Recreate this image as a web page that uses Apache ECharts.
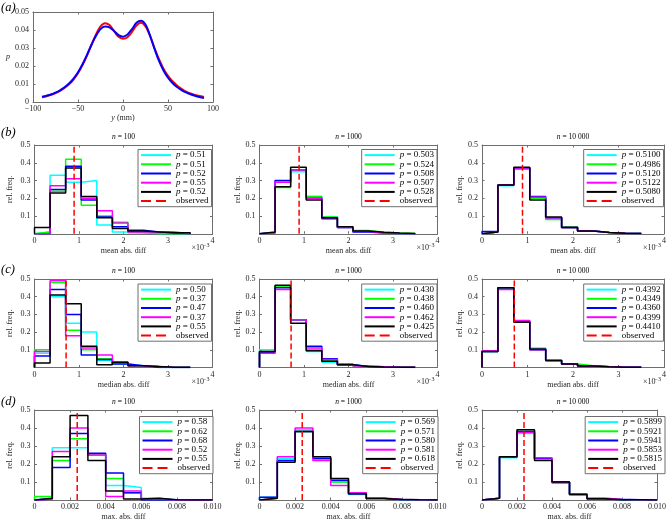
<!DOCTYPE html>
<html><head><meta charset="utf-8">
<script src="https://cdn.jsdelivr.net/npm/echarts@6/dist/echarts.min.js"></script>
<style>html,body{margin:0;padding:0;background:#fff}#c{width:669px;height:522px}</style>
</head><body><div id="c"></div>
<script>
const FONT = 'Liberation Serif';
// ---------- panel (a) ----------
const aY = [-90,-85,-80,-75,-70,-65,-60,-55,-50,-45,-40,-35,-30,-25,-20,-15,-10,-5,0,5,10,15,20,25,30,35,40,45,50,55,60,65,70,75,80,85,90];
const aRed = [0.0026,0.0032,0.0040,0.0050,0.0062,0.0078,0.0098,0.0125,0.0160,0.0205,0.0258,0.0318,0.0375,0.0420,0.0438,0.0428,0.0395,0.0362,0.0352,0.0360,0.0390,0.0425,0.0440,0.0420,0.0368,0.0300,0.0238,0.0185,0.0145,0.0115,0.0092,0.0073,0.0058,0.0047,0.0039,0.0033,0.0028];
const aBlue = [0.0029,0.0035,0.0042,0.0052,0.0065,0.0082,0.0103,0.0130,0.0165,0.0210,0.0262,0.0318,0.0368,0.0405,0.0420,0.0415,0.0395,0.0372,0.0363,0.0375,0.0405,0.0440,0.0452,0.0430,0.0370,0.0295,0.0228,0.0175,0.0135,0.0105,0.0083,0.0066,0.0053,0.0043,0.0035,0.0028,0.0022];

// ---------- histogram bins ----------
const edgesMean = [0,0.35,0.70,1.05,1.40,1.75,2.10,2.45,2.80,3.15,3.50];   // x10^-3
const edgesMedian = [0,0.35,0.70,1.05,1.40,1.75,2.10,2.45,2.80,3.15,3.50]; // x10^-3
const edgesMax = [0,0.001,0.002,0.003,0.004,0.005,0.006,0.007,0.008,0.009,0.010];

const obsMean = 0.89, obsMedian = 0.71, obsMax = 0.0024;

// series order: cyan, green, blue, magenta, black
const mean100 = [
 [0.01,0.33,0.29,0.30,0.05,0.01,0.005,0,0,0],
 [0.01,0.24,0.42,0.16,0.10,0.065,0.005,0,0,0],
 [0.0,0.25,0.38,0.19,0.095,0.04,0.02,0.01,0.005,0],
 [0.0,0.27,0.31,0.20,0.13,0.06,0.01,0.01,0.01,0],
 [0.035,0.23,0.37,0.21,0.09,0.03,0.015,0.01,0.005,0.005]];
const mean100P = ['0.51','0.51','0.52','0.55','0.52'];
const mean1000 = [
 [0.005,0.29,0.35,0.21,0.095,0.035,0.01,0.005,0,0],
 [0.005,0.26,0.36,0.21,0.095,0.04,0.018,0.008,0.004,0.002],
 [0.005,0.30,0.36,0.20,0.085,0.035,0.01,0.004,0.001,0],
 [0.005,0.29,0.36,0.20,0.09,0.035,0.012,0.005,0.002,0],
 [0.01,0.265,0.375,0.19,0.09,0.04,0.015,0.008,0.004,0.002]];
const mean1000P = ['0.503','0.524','0.508','0.507','0.528'];
const mean10000 = [
 [0.01,0.27,0.37,0.20,0.09,0.035,0.015,0.007,0.003,0.001],
 [0.01,0.275,0.37,0.20,0.08,0.04,0.015,0.007,0.003,0.001],
 [0.012,0.275,0.37,0.21,0.09,0.035,0.015,0.007,0.003,0.001],
 [0.01,0.275,0.365,0.205,0.09,0.035,0.015,0.007,0.003,0.001],
 [0.01,0.275,0.375,0.19,0.095,0.035,0.015,0.007,0.003,0.001]];
const mean10000P = ['0.5100','0.4986','0.5120','0.5122','0.5080'];

const median100 = [
 [0.08,0.40,0.25,0.20,0.04,0.02,0.01,0,0,0],
 [0.10,0.48,0.21,0.10,0.05,0.03,0.01,0.005,0,0],
 [0.065,0.44,0.30,0.07,0.045,0.02,0.01,0,0,0],
 [0.09,0.49,0.18,0.11,0.07,0.03,0.01,0.005,0,0],
 [0.025,0.41,0.36,0.12,0.015,0.03,0.01,0.005,0.002,0.002]];
const median100P = ['0.50','0.37','0.47','0.37','0.55'];
const median1000 = [
 [0.10,0.46,0.27,0.09,0.03,0.015,0.005,0.003,0.001,0.001],
 [0.09,0.46,0.27,0.10,0.04,0.02,0.008,0.004,0.002,0.002],
 [0.085,0.45,0.27,0.12,0.05,0.015,0.005,0.003,0.001,0],
 [0.08,0.44,0.27,0.11,0.045,0.02,0.008,0.004,0.002,0.001],
 [0.09,0.465,0.25,0.095,0.035,0.015,0.006,0.003,0.001,0.001]];
const median1000P = ['0.430','0.438','0.460','0.462','0.425'];
const median10000 = [
 [0.09,0.45,0.26,0.11,0.04,0.02,0.008,0.004,0.002,0.001],
 [0.09,0.45,0.26,0.10,0.04,0.02,0.01,0.004,0.002,0.001],
 [0.09,0.45,0.26,0.10,0.04,0.02,0.008,0.004,0.002,0.001],
 [0.095,0.44,0.265,0.10,0.04,0.02,0.008,0.004,0.002,0.001],
 [0.09,0.45,0.255,0.105,0.04,0.02,0.008,0.004,0.002,0.001]];
const median10000P = ['0.4392','0.4349','0.4360','0.4399','0.4410'];

const max100 = [
 [0.01,0.29,0.29,0.25,0.08,0.07,0.01,0,0,0],
 [0.02,0.22,0.34,0.25,0.12,0.04,0.005,0,0,0],
 [0.005,0.18,0.37,0.26,0.15,0.04,0,0,0,0],
 [0.005,0.27,0.40,0.25,0.02,0.05,0.005,0,0,0],
 [0.01,0.24,0.47,0.22,0.05,0.005,0.01,0.002,0,0]];
const max100P = ['0.58','0.62','0.68','0.52','0.55'];
const max1000 = [
 [0.015,0.23,0.39,0.23,0.10,0.03,0.008,0.002,0.001,0],
 [0.01,0.22,0.38,0.23,0.10,0.04,0.01,0.004,0.002,0.001],
 [0.015,0.22,0.38,0.23,0.11,0.035,0.008,0.002,0.001,0],
 [0.01,0.24,0.40,0.22,0.08,0.04,0.01,0.004,0.002,0.001],
 [0.01,0.21,0.38,0.24,0.12,0.035,0.008,0.003,0.001,0]];
const max1000P = ['0.569','0.571','0.580','0.581','0.618'];
const max10000 = [
 [0.01,0.235,0.37,0.23,0.10,0.035,0.01,0.004,0.002,0.001],
 [0.01,0.24,0.38,0.23,0.10,0.03,0.007,0.002,0.001,0],
 [0.01,0.24,0.38,0.23,0.10,0.03,0.007,0.002,0.001,0],
 [0.01,0.24,0.375,0.235,0.095,0.035,0.01,0.004,0.002,0.001],
 [0.01,0.24,0.39,0.22,0.10,0.03,0.007,0.002,0.001,0]];
const max10000P = ['0.5899','0.5921','0.5941','0.5853','0.5815'];

const nLabels = ['100','1000','10 000'];
const colors = ['#00ffff','#00ff00','#0000ff','#ff00ff','#000000'];

// ---------- layout ----------
const W = 669;
const AX = '#6e6e6e', TXT = '#262626';
const colX = [[34.5,178],[259.5,178],[482,182]];
const rowY = {b:[145,88.75], c:[279,88.5], d:[410,90]};
const legendRightEdge = {b:[211.5,437,663.5], c:[211.5,437,663.5], d:[213,438,665]};
const legendTop = {b:149.5, c:284, d:416.5};
const ylabGap = [20.5,15.5,15];

const panels = [
 {row:'b',col:0,vals:mean100,p:mean100P,obs:obsMean,edges:edgesMean,xname:'mean abs. diff',kind:'e'},
 {row:'b',col:1,vals:mean1000,p:mean1000P,obs:obsMean,edges:edgesMean,xname:'mean abs. diff',kind:'e'},
 {row:'b',col:2,vals:mean10000,p:mean10000P,obs:obsMean,edges:edgesMean,xname:'mean abs. diff',kind:'e'},
 {row:'c',col:0,vals:median100,p:median100P,obs:obsMedian,edges:edgesMedian,xname:'median abs. diff',kind:'e'},
 {row:'c',col:1,vals:median1000,p:median1000P,obs:obsMedian,edges:edgesMedian,xname:'median abs. diff',kind:'e'},
 {row:'c',col:2,vals:median10000,p:median10000P,obs:obsMedian,edges:edgesMedian,xname:'median abs. diff',kind:'e'},
 {row:'d',col:0,vals:max100,p:max100P,obs:obsMax,edges:edgesMax,xname:'max. abs. diff',kind:'m'},
 {row:'d',col:1,vals:max1000,p:max1000P,obs:obsMax,edges:edgesMax,xname:'max. abs. diff',kind:'m'},
 {row:'d',col:2,vals:max10000,p:max10000P,obs:obsMax,edges:edgesMax,xname:'max. abs. diff',kind:'m'}
];

function stairs(edges, vals){
  const pts = [[edges[0],0]];
  for(let i=0;i<vals.length;i++){ pts.push([edges[i],vals[i]],[edges[i+1],vals[i]]); }
  pts.push([edges[edges.length-1],0]);
  return pts;
}

const lab = {fontFamily:FONT, fontSize:8, color:TXT};
function xAxes(g, min, max, interval, fmt, name, nameGap, nameRich){
  const common = {type:'value', gridIndex:g, min, max, interval, splitLine:{show:false},
    axisLine:{show:true,onZero:false,lineStyle:{color:AX,width:1}},
    axisTick:{show:true,inside:true,length:2.5,lineStyle:{color:AX,width:1}}};
  return [
    Object.assign({}, common, {position:'bottom',
      axisLabel:Object.assign({show:true,margin:3,formatter:fmt,showMinLabel:true,showMaxLabel:true}, lab),
      name, nameLocation:'middle', nameGap,
      nameTextStyle:Object.assign({rich:nameRich||{}}, lab)}),
    Object.assign({}, common, {position:'top', axisLabel:{show:false}})
  ];
}
function yAxes(g, min, max, interval, fmt, name, nameGap, nameExtra){
  const common = {type:'value', gridIndex:g, min, max, interval, splitLine:{show:false},
    axisLine:{show:true,onZero:false,lineStyle:{color:AX,width:1}},
    axisTick:{show:true,inside:true,length:2.5,lineStyle:{color:AX,width:1}}};
  return [
    Object.assign({}, common, {position:'left',
      axisLabel:Object.assign({show:true,margin:4,formatter:fmt,showMinLabel:true,showMaxLabel:true}, lab),
      name, nameLocation:'middle', nameGap, nameRotate:90,
      nameTextStyle:Object.assign({}, lab)}, nameExtra||{}),
    Object.assign({}, common, {position:'right', axisLabel:{show:false}})
  ];
}

const grid = [], xAxis = [], yAxis = [], series = [], legend = [], graphic = [];

// panel (a)
grid.push({left:33, top:12, width:180, height:90});
xAxis.push(...xAxes(0,-100,100,50, v => v<0 ? '\u2212'+Math.abs(v) : String(v),
  '{i|y} (mm)', 12, {i:{fontStyle:'italic',fontFamily:FONT,fontSize:8,color:TXT}}));
yAxis.push(...yAxes(0,0,0.05,0.01, v => v===0 ? '0' : v.toFixed(2), 'p', 23,
  {nameRotate:0, nameTextStyle:Object.assign({fontStyle:'italic'}, lab)}));
series.push({type:'line', name:'red', xAxisIndex:0, yAxisIndex:0, smooth:0.3, symbol:'none', animation:false, silent:true,
  data: aY.map((y,i)=>[y,aRed[i]]), lineStyle:{color:'#ff0000',width:2}});
series.push({type:'line', name:'blue', xAxisIndex:0, yAxisIndex:0, smooth:0.3, symbol:'none', animation:false, silent:true,
  data: aY.map((y,i)=>[y,aBlue[i]]), lineStyle:{color:'#0000ff',width:2}});

const LFS = 9;
const richI = {fontStyle:'italic', fontFamily:FONT, fontSize:LFS, color:'#000', lineHeight:9.2};
panels.forEach((P, k) => {
  const g = k+1;
  const [gx, gw] = colX[P.col];
  const [gy, gh] = rowY[P.row];
  grid.push({left:gx, top:gy, width:gw, height:gh});
  if (P.kind === 'e') {
    xAxis.push(...xAxes(g,0,4,1, v => String(Math.round(v)), P.xname, 13));
  } else {
    xAxis.push(...xAxes(g,0,0.01,0.002, v => v<1e-12 ? '0' : v.toFixed(3), P.xname, 13));
  }
  yAxis.push(...yAxes(g,0,0.5,0.1, v => v<1e-9 ? '' : v.toFixed(1), 'rel. freq.', ylabGap[P.col]));
  const labels = {};
  const names = [];
  P.vals.forEach((vals, s) => {
    const nm = 'h'+k+'_'+s;
    labels[nm] = '{i|p} = ' + P.p[s];
    names.push(nm);
    series.push({type:'line', name:nm, xAxisIndex:2*g, yAxisIndex:2*g, symbol:'none', animation:false, silent:true,
      data: stairs(P.edges, vals), lineStyle:{color:colors[s], width:1.5}, itemStyle:{color:colors[s]}});
  });
  const on = 'obs'+k;
  labels[on] = 'observed';
  series.push({type:'line', name:on, xAxisIndex:2*g, yAxisIndex:2*g, symbol:'none', animation:false, silent:true,
    data: [[P.obs,0],[P.obs,0.5]], lineStyle:{color:'#ff0000', width:1.5, type:'dashed'}, itemStyle:{color:'#ff0000'}});
  legend.push({
    orient:'vertical', right: W - legendRightEdge[P.row][P.col], top: legendTop[P.row],
    data: names.map(n=>({name:n})).concat([{name:on, lineStyle:{type:[10,5]}}]),
    formatter: n => labels[n],
    itemWidth:30, itemHeight:8, itemGap:0, padding:[1,3,1,2],
    borderColor:AX, borderWidth:1, backgroundColor:'#fff', borderRadius:0,
    selectedMode:false, itemStyle:{opacity:0},
    textStyle:{fontFamily:FONT, fontSize:LFS, color:'#000', lineHeight:9.2, rich:{i:richI}}
  });
  graphic.push({type:'text', x: gx+gw/2, y: gy-7.5, silent:true,
    style:{text:'{i|n} = '+nLabels[P.col], align:'center', verticalAlign:'middle', textAlign:'center', textVerticalAlign:'middle',
      fontFamily:FONT, fontSize:7.5, fill:'#000',
      rich:{i:{fontStyle:'italic', fontFamily:FONT, fontSize:7.5, fill:'#000'}}}});
  if (P.kind === 'e') {
    graphic.push({type:'text', x: gx+gw-21, y: gy+gh+14.5, silent:true,
      style:{text:'\u00d710', align:'left', verticalAlign:'middle', textAlign:'left', textVerticalAlign:'middle', fontFamily:FONT, fontSize:8, fill:TXT}});
    graphic.push({type:'text', x: gx+gw-9.5, y: gy+gh+12, silent:true,
      style:{text:'\u22123', align:'left', verticalAlign:'middle', textAlign:'left', textVerticalAlign:'middle', fontFamily:FONT, fontSize:6, fill:TXT}});
  }
});

[['(a)',8],['(b)',133],['(c)',270],['(d)',402]].forEach(([t,y]) => {
  graphic.push({type:'text', x:1, y, silent:true,
    style:{text:t, align:'left', verticalAlign:'middle', textAlign:'left', textVerticalAlign:'middle',
      fontFamily:FONT, fontStyle:'italic', fontSize:12.5, fill:'#000'}});
});

const chart = echarts.init(document.getElementById('c'), null, {renderer:'canvas'});
chart.setOption({animation:false, backgroundColor:'#fff', grid, xAxis, yAxis, series, legend, graphic});
</script></body></html>
